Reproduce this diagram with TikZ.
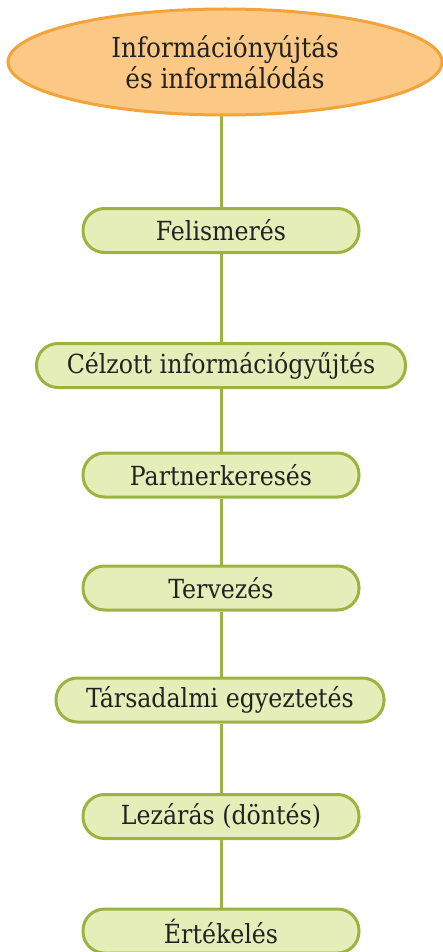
\documentclass[tikz,border=0pt]{standalone}
\usepackage{fontspec}
\setmainfont{DejaVu Serif Condensed}
\usetikzlibrary{shapes.geometric,backgrounds}
\definecolor{gborder}{HTML}{9BB43F}
\definecolor{gfill}{HTML}{E5EDB8}
\definecolor{oborder}{HTML}{F2A33A}
\definecolor{ofill}{HTML}{FBC886}
\definecolor{txt}{HTML}{222222}
\tikzset{
  stepbox/.style={draw=gborder, fill=gfill, line width=3pt, rounded corners=21.5pt,
    minimum height=44pt, inner sep=0pt, text=txt, font=\fontsize{26.3}{30}\selectfont},
  topell/.style={ellipse, draw=oborder, fill=ofill, line width=3pt,
    minimum width=434pt, minimum height=106pt, inner sep=0pt, text=txt,
    align=center, font=\fontsize{27.5}{31}\selectfont},
  link/.style={draw=gborder, line width=3pt}
}
\begin{document}
\begin{tikzpicture}[x=1pt,y=-1pt]
\useasboundingbox (0,0) rectangle (443,952);
\node[topell] (top) at (225,62) {Információnyújtás\\és informálódás};
\node[stepbox, minimum width=276pt] (f1) at (221,230.5) {Felismerés};
\node[stepbox, minimum width=369pt] (f2) at (221,365.5) {Célzott információgyűjtés};
\node[stepbox, minimum width=276pt] (f3) at (221,475) {Partnerkeresés};
\node[stepbox, minimum width=276pt] (f4) at (221,588) {Tervezés};
\node[stepbox, minimum width=328pt] (f5) at (220,700) {Társadalmi egyeztetés};
\node[stepbox, minimum width=276pt] (f6) at (221,816.5) {Lezárás (döntés)};
\node[stepbox, minimum width=276pt] (f7) at (221,931) {Értékelés};
\begin{scope}[on background layer]
\draw[link] (f1.north |- top.south) -- (f1.north);
\draw[link] (f1.south) -- (f2.north);
\draw[link] (f2.south) -- (f3.north);
\draw[link] (f3.south) -- (f4.north);
\draw[link] (f4.south) -- (f5.north -| f4.south);
\draw[link] (f5.south -| f6.north) -- (f6.north);
\draw[link] (f6.south) -- (f7.north);
\end{scope}
\end{tikzpicture}
\end{document}
